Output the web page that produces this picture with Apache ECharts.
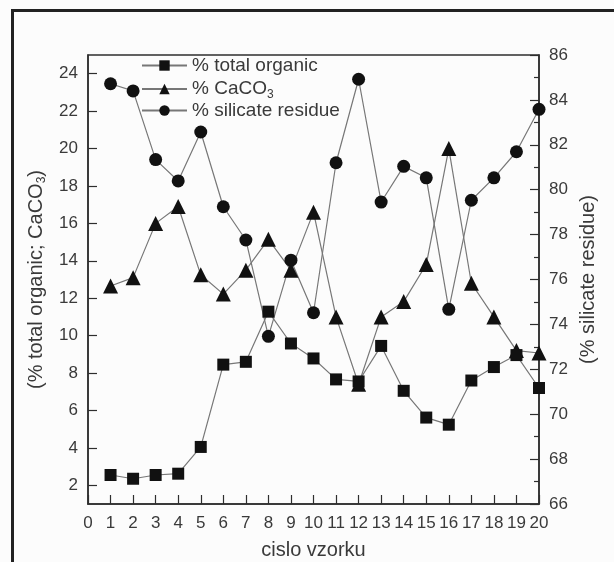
<!DOCTYPE html>
<html>
<head>
<meta charset="utf-8">
<script src="https://cdn.jsdelivr.net/npm/echarts@6/dist/echarts.min.js"></script>
<style>
  html, body { margin: 0; padding: 0; background: #fcfcfc; }
  #chart { width: 614px; height: 562px; }
</style>
</head>
<body>
<div id="chart"></div>
<script>
// sample numbers (x axis)
const samples = [1, 2, 3, 4, 5, 6, 7, 8, 9, 10, 11, 12, 13, 14, 15, 16, 17, 18, 19, 20];
// left axis series
const totalOrganic = [2.55, 2.35, 2.55, 2.62, 4.05, 8.45, 8.6, 11.28, 9.58, 8.78, 7.66, 7.55, 9.45, 7.05, 5.62, 5.24, 7.6, 8.32, 8.96, 7.2];
const caco3 = [12.65, 13.1, 16.0, 16.9, 13.25, 12.22, 13.5, 15.15, 13.5, 16.6, 11.0, 7.4, 11.0, 11.82, 13.8, 20.0, 12.8, 11.0, 9.2, 9.07];
// right axis series
const silicateResidue = [84.72, 84.4, 81.34, 80.39, 82.57, 79.24, 77.76, 73.47, 76.86, 74.52, 81.2, 84.92, 79.45, 81.04, 80.53, 74.67, 79.53, 80.53, 81.69, 83.58];
// left axis tick labels
const leftTicks = [2, 4, 6, 8, 10, 12, 14, 16, 18, 20, 22, 24];

const textColor = "#3a3a3a";
const axisColor = "#2e2e2e";
const lineColor = "#777";
const markColor = "#111";
const font = "'Liberation Sans', Arial, sans-serif";

function pairs(vals) {
  return samples.map((x, i) => [x, vals[i]]);
}

const chart = echarts.init(document.getElementById("chart"));

const option = {
  backgroundColor: "#fcfcfc",
  animation: false,
  textStyle: { fontFamily: font },
  grid: {
    left: 88,
    right: 75,
    top: 55,
    bottom: 58,
    outerBoundsMode: "none",
    containLabel: false,
    show: true,
    borderColor: axisColor,
    borderWidth: 1.5,
    backgroundColor: "transparent",
  },
  legend: {
    orient: "vertical",
    left: 141,
    top: 56,
    padding: 0,
    itemWidth: 45,
    itemHeight: 13,
    itemGap: 0,
    formatter: function (name) {
      if (name === "% CaCO3") return "{a|% CaCO}{sub|3}";
      return "{a|" + name + "}";
    },
    textStyle: {
      color: textColor,
      fontFamily: font,
      rich: {
        a: { fontSize: 19, lineHeight: 24, color: textColor, fontFamily: font },
        sub: { fontSize: 12, lineHeight: 12, verticalAlign: "bottom", padding: [14, 0, 0, 0], color: textColor, fontFamily: font },
      },
    },
  },
  xAxis: {
    type: "value",
    min: 0,
    max: 20,
    interval: 1,
    name: "cislo vzorku",
    nameLocation: "middle",
    nameGap: 36,
    nameTextStyle: { fontSize: 20, color: textColor, fontFamily: font },
    axisLine: { lineStyle: { color: axisColor, width: 1.5 } },
    axisTick: { inside: true, length: 9, lineStyle: { color: axisColor, width: 1.2 } },
    axisLabel: { fontSize: 17, color: textColor, margin: 11, fontFamily: font },
    splitLine: { show: false },
  },
  yAxis: [
    {
      type: "value",
      min: 1,
      max: 25,
      position: "left",
      name: "{a|(% total organic; CaCO}{sub|3}{a|)}",
      nameLocation: "middle",
      nameRotate: 90,
      nameGap: 40,
      nameTextStyle: {
        color: textColor,
        fontFamily: font,
        rich: {
          a: { fontSize: 20, lineHeight: 24, color: textColor, fontFamily: font },
          sub: { fontSize: 12, lineHeight: 12, verticalAlign: "bottom", padding: [12, 0, 0, 0], color: textColor, fontFamily: font },
        },
      },
      axisLine: { show: true, lineStyle: { color: axisColor, width: 1.5 } },
      axisTick: { show: true, inside: true, length: 9, customValues: leftTicks, lineStyle: { color: axisColor, width: 1.2 } },
      axisLabel: { fontSize: 17, color: textColor, margin: 10, customValues: leftTicks, fontFamily: font },
      splitLine: { show: false },
    },
    {
      type: "value",
      min: 66,
      max: 86,
      interval: 2,
      position: "right",
      name: "(% silicate residue)",
      nameLocation: "middle",
      nameRotate: 90,
      nameGap: 38,
      nameTextStyle: { fontSize: 20, color: textColor, fontFamily: font },
      axisLine: { show: true, lineStyle: { color: axisColor, width: 1.5 } },
      axisTick: { show: true, inside: true, length: 9, lineStyle: { color: axisColor, width: 1.2 } },
      minorTick: { show: true, splitNumber: 2, length: 5, lineStyle: { color: axisColor, width: 1.2 } },
      axisLabel: { fontSize: 17, color: textColor, margin: 10, fontFamily: font },
      splitLine: { show: false },
    },
  ],
  series: [
    {
      name: "% total organic",
      type: "line",
      yAxisIndex: 0,
      data: pairs(totalOrganic),
      symbol: "rect",
      symbolSize: 12,
      itemStyle: { color: markColor },
      lineStyle: { color: lineColor, width: 1.2 },
      z: 3,
    },
    {
      name: "% CaCO3",
      type: "line",
      yAxisIndex: 0,
      data: pairs(caco3),
      symbol: "triangle",
      symbolSize: 15,
      itemStyle: { color: markColor },
      lineStyle: { color: lineColor, width: 1.2 },
      z: 3,
    },
    {
      name: "% silicate residue",
      type: "line",
      yAxisIndex: 1,
      data: pairs(silicateResidue),
      symbol: "circle",
      symbolSize: 13,
      itemStyle: { color: markColor },
      lineStyle: { color: lineColor, width: 1.2 },
      z: 3,
    },
  ],
  graphic: [
    {
      type: "polyline",
      shape: { points: [[12.5, 562], [12.5, 10.5], [614, 10.5]] },
      style: { stroke: "#222", lineWidth: 3, fill: null },
      silent: true,
    },
  ],
};

chart.setOption(option);
</script>
</body>
</html>
